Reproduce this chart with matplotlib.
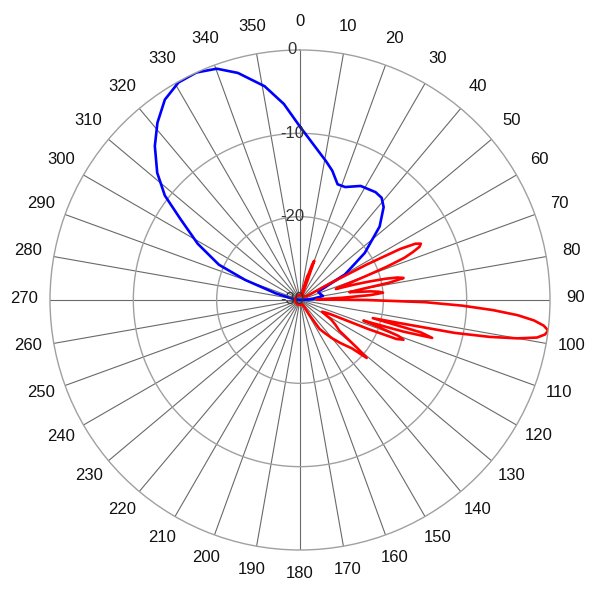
import numpy as np
import matplotlib.pyplot as plt
from matplotlib import transforms

# radiation pattern (angle in degrees, level in dB)
blue_angle = [0, 10.6, 14, 18, 21.8, 28, 35, 38.6, 42, 47.3, 54, 60.4, 65.4, 72, 80, 86,
              90, 120, 150, 180, 210, 240, 270, 280, 285.3, 290.1, 293.5, 298.8,
              304.2, 307.7, 311.7, 316.7, 321.2, 326, 330.8, 335.5, 340.2, 344.7,
              350.6, 355.3, 360]
blue_db = [-9.2, -13.05, -14.0, -15.4, -15.4, -14.5, -14.2, -14.3, -15.0, -17.0, -20.4,
           -23.8, -27.6, -27.5, -27.2, -28.5,
           -30, -30, -30, -30, -30, -30, -30, -29, -27.0, -23.0, -19.4, -16.0,
           -12.6, -9.5, -7.05, -4.6, -2.7, -1.0, -0.1, 0.0, -0.5, -1.75,
           -4.0, -6.4, -9.2]

red_angle = [0, 10, 16, 17, 18, 19, 20, 21, 22, 30, 40, 50, 60, 61, 62, 63, 64, 65,
             66, 67, 68, 69, 70, 71, 72, 73, 74, 75, 76, 77, 78, 79, 80, 81, 82, 83,
             84, 85, 86, 87, 88, 89, 90, 91, 92, 93, 94, 95, 96, 97, 98, 99, 100,
             101, 102, 103, 104, 105, 106, 107, 108, 109, 110, 111, 112, 113, 114,
             115, 116, 118, 120, 122, 125, 128, 130, 131, 133, 135, 137, 140, 143,
             146, 148, 150, 160, 180, 210, 240, 270, 300, 330, 360]
red_db = [-29.4, -29.4, -29, -27, -26.8, -25.5, -25, -27.5, -29, -29.4, -29.4, -29.4,
          -29, -26, -21, -16.5, -14.6, -14.0, -14.3, -15.3, -16.5, -18.8, -21.5,
          -23.5, -25.0, -25.5, -23.5, -21.5, -19.5, -18, -17.3, -19, -22.5, -24,
          -23, -21.5, -20.5, -20.0, -21.5, -25, -28, -27, -22, -15, -10.5, -6.8,
          -3.8, -1.8, -0.6, 0.0, -0.3, -1.2, -3.5,
          -6.8, -11, -17.5, -21, -15, -13.5, -17, -22, -20, -17.5, -16.7, -17.5,
          -21, -24.5, -26, -26.5, -27,
          -26.5, -25.6, -24.8, -24, -21, -19.4, -21.5, -22.3, -23, -24, -25,
          -25.8, -28, -29.4, -29.4, -29.4, -29.4, -29.4, -29.4, -29.4, -29.4, -29.4]

ring_levels = [-30, -20, -10, 0]
theta_ticks = list(range(0, 360, 10))

R_MIN, R_MAX = -30, 0
PX_PER_DB = 250 / (R_MAX - R_MIN)

plt.rcParams['font.family'] = ['Liberation Sans', 'DejaVu Sans']

fig = plt.figure(figsize=(6, 6), dpi=100)
ax = fig.add_axes([50 / 600, 50 / 600, 500 / 600, 500 / 600], projection='polar')
ax.set_theta_zero_location('N')
ax.set_theta_direction(-1)
ax.set_ylim(R_MIN, R_MAX)

ax.set_thetagrids(theta_ticks, labels=[''] * len(theta_ticks))
ax.set_rgrids(ring_levels[1:-1], labels=[''] * (len(ring_levels) - 2))
ax.xaxis.grid(True, color='#6a6a6a', lw=0.8)
ax.yaxis.grid(True, color='#a0a0a0', lw=1.0)
ax.spines['polar'].set_color('#a0a0a0')
ax.spines['polar'].set_linewidth(1.0)

ax.plot(np.deg2rad(blue_angle), np.clip(blue_db, R_MIN, R_MAX), color='#0000ff', lw=1.9)
ax.plot(np.deg2rad(red_angle), np.clip(red_db, R_MIN, R_MAX), color='#ff0000', lw=1.9)

# angle labels outside the outer ring, nudged up a little like the original
label_r = R_MAX + 26 / PX_PER_DB
up = transforms.ScaledTranslation(0, 2 / 100, fig.dpi_scale_trans)
for a in theta_ticks:
    ax.text(np.deg2rad(a), label_r, str(a), ha='center', va='center',
            fontsize=12, color='#111111', clip_on=False, transform=ax.transData + up)

# ring labels just left of the 0 degree spoke
shift = transforms.ScaledTranslation(-8 / 100, 0, fig.dpi_scale_trans)
for lv in ring_levels:
    ax.text(0, lv, str(lv), ha='center', va='center', fontsize=12,
            color='#333333', transform=ax.transData + shift)

fig.savefig('out.png', dpi=100)
